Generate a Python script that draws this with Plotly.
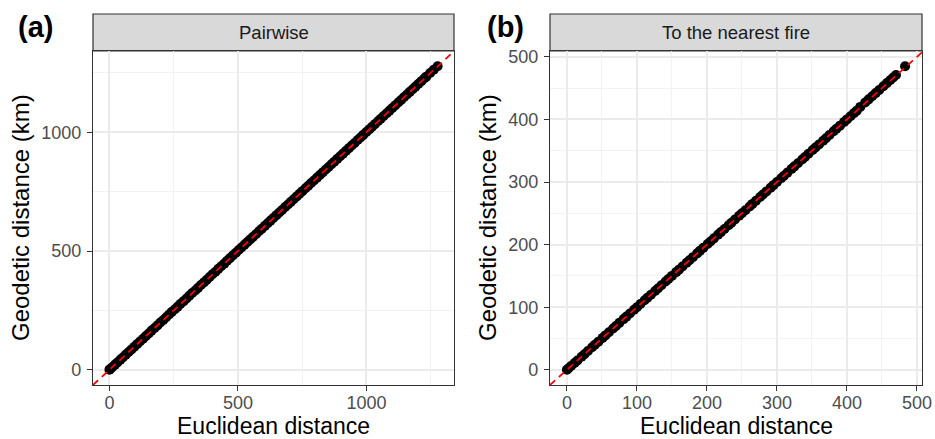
import plotly.graph_objects as go

# ---------------- data ----------------
pair_euclid = [0, 3, 11, 22, 31, 43, 52, 64, 75, 86, 97, 108, 119, 131, 142, 153, 164, 176, 187, 198,
               210, 221, 232, 243, 255, 266, 277, 289, 300, 311, 322, 334, 345, 356, 368, 379, 390, 401, 413, 424,
               435, 447, 458, 469, 480, 492, 503, 514, 526, 537, 548, 559, 571, 582, 593, 605, 616, 627, 638, 650,
               661, 672, 684, 695, 706, 717, 729, 740, 751, 763, 774, 785, 796, 808, 819, 830, 842, 853, 864, 875,
               887, 898, 909, 921, 932, 943, 954, 966, 977, 988, 1000, 1011, 1022, 1033, 1045, 1056, 1067, 1079, 1090, 1101,
               1112, 1124, 1135, 1146, 1158, 1169, 1180, 1191, 1203, 1214, 1226, 1233, 1248, 1262, 1277]
pair_geodetic = [0, 3, 11, 22, 31, 43, 52, 64, 75, 86, 97, 108, 119, 131, 142, 153, 165, 176, 187, 199,
                 210, 221, 233, 244, 255, 266, 278, 289, 300, 312, 323, 334, 345, 357, 368, 379, 391, 402, 413, 425,
                 436, 447, 459, 470, 481, 493, 504, 515, 527, 538, 549, 560, 572, 583, 594, 606, 617, 628, 639, 651,
                 662, 673, 685, 696, 707, 718, 730, 741, 752, 764, 775, 786, 797, 809, 820, 831, 843, 854, 865, 876,
                 888, 899, 910, 922, 933, 944, 955, 967, 978, 989, 1001, 1012, 1023, 1034, 1046, 1057, 1068, 1080, 1091, 1102,
                 1113, 1125, 1136, 1147, 1159, 1170, 1181, 1192, 1204, 1215, 1227, 1234, 1249, 1263, 1278]

near_euclid = [0, 2, 6, 11, 15, 21, 25, 30, 36, 40, 45, 51, 55, 60, 66, 70, 75, 81, 85, 90,
               96, 100, 105, 111, 115, 120, 126, 130, 135, 141, 145, 150, 156, 160, 165, 171, 175, 180, 186, 190,
               195, 201, 205, 210, 216, 220, 225, 231, 235, 240, 246, 250, 255, 261, 265, 270, 276, 280, 285, 291,
               295, 300, 306, 310, 315, 321, 325, 330, 336, 340, 345, 351, 355, 360, 366, 370, 375, 381, 385, 390,
               396, 400, 405, 410, 414, 419, 426, 431, 436, 441, 446, 452, 457, 462, 466, 470, 483]
near_geodetic = [0, 2, 6, 11, 15, 21, 25, 30, 36, 40, 45, 51, 55, 60, 66, 70, 75, 81, 85, 90,
                 96, 100, 105, 111, 115, 120, 126, 130, 135, 141, 145, 150, 156, 160, 165, 171, 175, 180, 186, 190,
                 195, 201, 205, 210, 216, 220, 225, 231, 235, 240, 246, 250, 255, 261, 265, 270, 276, 280, 285, 291,
                 295, 300, 306, 310, 315, 321, 325, 330, 336, 340, 345, 351, 355, 360, 366, 370, 375, 381, 385, 390,
                 396, 400, 405, 410, 414, 420, 427, 432, 437, 442, 447, 453, 458, 463, 467, 471, 485]

panel_titles = ["Pairwise", "To the nearest fire"]
panel_tags = ["(a)", "(b)"]
x_title = "Euclidean distance"
y_title = "Geodetic distance (km)"
pair_ticks = [0, 500, 1000]
near_ticks = [0, 100, 200, 300, 400, 500]
pair_minor = 250
near_minor = 50

# ---------------- layout helpers ----------------
W, H = 935, 439
FONT = "Liberation Sans, Arial, Helvetica, sans-serif"


def px(x):
    return x / W


def py(y):
    return 1 - y / H


panels = [
    dict(x=pair_euclid, y=pair_geodetic, ticks=pair_ticks, minor=pair_minor,
         left=93, right=454),
    dict(x=near_euclid, y=near_geodetic, ticks=near_ticks, minor=near_minor,
         left=550, right=922),
]
TOP, BOTTOM, STRIP_TOP = 51, 385, 14


def expand(vals):
    lo, hi = min(vals), max(vals)
    pad = 0.05 * (hi - lo)
    return [lo - pad, hi + pad]


fig = go.Figure()
annotations = []
shapes = []
layout_axes = {}

for i, p in enumerate(panels):
    n = "" if i == 0 else str(i + 1)
    xa, ya = "x" + n, "y" + n
    xr = expand(p["x"])
    yr = expand(p["y"])

    fig.add_trace(go.Scatter(
        x=p["x"], y=p["y"], mode="markers", xaxis=xa, yaxis=ya,
        marker=dict(color="black", size=10, line=dict(width=0)),
        showlegend=False, hoverinfo="skip", cliponaxis=True))

    lo = min(xr[0], yr[0])
    hi = max(xr[1], yr[1])
    fig.add_trace(go.Scatter(
        x=[lo, hi], y=[lo, hi], mode="lines", xaxis=xa, yaxis=ya,
        line=dict(color="#FF0000", width=1.8, dash="7px,5px"),
        showlegend=False, hoverinfo="skip"))

    common = dict(
        showline=True, linecolor="#333333", linewidth=1.2, mirror=True,
        ticks="outside", ticklen=5, tickwidth=1.1, tickcolor="#333333",
        tickfont=dict(family=FONT, size=18, color="#4D4D4D"),
        showgrid=True, gridcolor="#EBEBEB", gridwidth=1.5,
        zeroline=False, tickmode="array", tickvals=p["ticks"],
        ticktext=[str(t) for t in p["ticks"]],
        minor=dict(dtick=p["minor"], tick0=0, showgrid=True,
                   gridcolor="#F2F2F2", gridwidth=0.8, ticks=""),
        automargin=False,
    )
    layout_axes["xaxis" + n] = dict(common, range=xr,
                                    domain=[px(p["left"]), px(p["right"])],
                                    anchor=ya, ticklabelstandoff=-4)
    layout_axes["yaxis" + n] = dict(common, range=yr,
                                    domain=[py(BOTTOM), py(TOP)],
                                    anchor=xa, ticklabelstandoff=2)

    # strip
    shapes.append(dict(type="rect", xref="paper", yref="paper",
                       x0=px(p["left"]), x1=px(p["right"]),
                       y0=py(TOP), y1=py(STRIP_TOP),
                       fillcolor="#D9D9D9",
                       line=dict(color="#333333", width=1.2), layer="below"))
    cx = (p["left"] + p["right"]) / 2
    annotations.append(dict(xref="paper", yref="paper", x=px(cx),
                            y=py((TOP + STRIP_TOP) / 2),
                            text=panel_titles[i], showarrow=False,
                            xanchor="center", yanchor="middle", borderpad=0,
                            font=dict(family=FONT, size=18.5, color="#1A1A1A")))
    # x title
    annotations.append(dict(xref="paper", yref="paper", x=px(cx), y=py(426),
                            text=x_title, showarrow=False, borderpad=0,
                            xanchor="center", yanchor="middle",
                            font=dict(family=FONT, size=23, color="black")))
    # y title
    ytx = 21 if i == 0 else 488
    annotations.append(dict(xref="paper", yref="paper", x=px(ytx),
                            y=py((TOP + BOTTOM) / 2), borderpad=0,
                            text=y_title, showarrow=False, textangle=-90,
                            xanchor="center", yanchor="middle",
                            font=dict(family=FONT, size=24, color="black")))
    # tag
    tx = 35 if i == 0 else 505
    annotations.append(dict(xref="paper", yref="paper", x=px(tx), y=py(27),
                            text="<b>" + panel_tags[i] + "</b>", showarrow=False,
                            xanchor="center", yanchor="middle", borderpad=0,
                            font=dict(family=FONT, size=29, color="black")))

fig.update_layout(
    width=W, height=H,
    margin=dict(l=0, r=0, t=0, b=0, autoexpand=False),
    paper_bgcolor="white", plot_bgcolor="white",
    shapes=shapes, annotations=annotations,
    showlegend=False,
    **layout_axes,
)

fig.write_html("out.html")
